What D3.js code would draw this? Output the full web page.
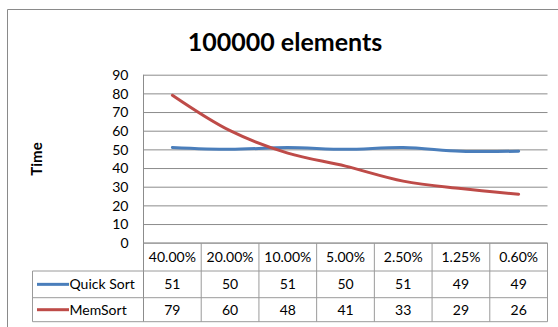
<!DOCTYPE html>
<html>
<head>
<meta charset="utf-8">
<script src="https://cdn.jsdelivr.net/npm/d3@7"></script>
<style>
  html, body { margin: 0; padding: 0; background: #fff; }
  svg { display: block; }
  text { font-family: Lato, "Open Sans", "Noto Sans", sans-serif; fill: #000; }
</style>
</head>
<body>
<svg id="chart" width="558" height="327"></svg>
<script>
// Sample fractions on the x axis
const categories = ["40.00%", "20.00%", "10.00%", "5.00%", "2.50%", "1.25%", "0.60%"];
// Run times per series
const quickSort = [51, 50, 51, 50, 51, 49, 49];
const memSort = [79, 60, 48, 41, 33, 29, 26];
const seriesNames = ["Quick Sort", "MemSort"];
const seriesColors = ["#4A7EBB", "#BE4B48"];
const yTicks = [0, 10, 20, 30, 40, 50, 60, 70, 80, 90];

const series = [
  { name: seriesNames[0], values: quickSort, color: seriesColors[0] },
  { name: seriesNames[1], values: memSort, color: seriesColors[1] }
];

const svg = d3.select("#chart");
const gridColor = "#8C8C8C";

// chart frame
const frame = { left: 7.5, top: 9.5 };
svg.append("path")
  .attr("d", `M${frame.left},327 V${frame.top} H558`)
  .attr("fill", "none").attr("stroke", "#8A8A8A").attr("stroke-width", 1);

// plot area
const plot = { left: 143.5, right: 547.5, top: 74.7, bottom: 242.7 };

const x = d3.scaleBand().domain(categories).range([plot.left, plot.right]);
const y = d3.scaleLinear().domain([0, 90]).range([plot.bottom, plot.top]);

// title
svg.append("text")
  .attr("x", 285).attr("y", 51)
  .attr("text-anchor", "middle")
  .style("font-size", "25px").style("font-weight", "bold")
  .text("100000 elements");

// y axis title
svg.append("text")
  .attr("transform", "translate(42,159) rotate(-90)")
  .attr("text-anchor", "middle")
  .style("font-size", "15px").style("font-weight", "bold")
  .text("Time");

// gridlines and tick labels
const yAxis = d3.axisLeft(y)
  .tickValues(yTicks)
  .tickSize(-(plot.right - plot.left))
  .tickPadding(15)
  .tickFormat(d3.format("d"));

const gy = svg.append("g")
  .attr("transform", `translate(${plot.left},0)`)
  .call(yAxis);
gy.select(".domain").remove();
gy.selectAll(".tick line").attr("stroke", gridColor).attr("stroke-width", 1);
gy.selectAll(".tick text")
  .style("font-size", "14px")
  .style("font-family", "Lato, 'Open Sans', sans-serif")
  .attr("fill", "#000")
  .attr("dy", "0.35em");

// vertical axis line through plot and table
const rows = [243, 271, 297.7, 321.7];
svg.append("line")
  .attr("x1", plot.left).attr("x2", plot.left)
  .attr("y1", plot.top).attr("y2", rows[3])
  .attr("stroke", gridColor).attr("stroke-width", 1);

// series lines
const line = d3.line()
  .x((d, i) => x(categories[i]) + x.bandwidth() / 2)
  .y(d => y(d))
  .curve(d3.curveCatmullRom.alpha(0.5));

svg.append("g").selectAll("path")
  .data(series)
  .join("path")
  .attr("d", d => line(d.values))
  .attr("fill", "none")
  .attr("stroke", d => d.color)
  .attr("stroke-width", 3)
  .attr("stroke-linecap", "round")
  .attr("stroke-linejoin", "round");

// data table
const table = svg.append("g");
const tableLeft = 32.5;
const tblColor = "#9A9A9A";

// horizontal rules
table.append("line")
  .attr("x1", plot.left).attr("x2", plot.right)
  .attr("y1", rows[0]).attr("y2", rows[0])
  .attr("stroke", tblColor);
[rows[1], rows[2], rows[3]].forEach(r => {
  table.append("line")
    .attr("x1", tableLeft).attr("x2", plot.right)
    .attr("y1", r).attr("y2", r)
    .attr("stroke", tblColor);
});
// vertical rules
table.append("line")
  .attr("x1", tableLeft).attr("x2", tableLeft)
  .attr("y1", rows[1]).attr("y2", rows[3])
  .attr("stroke", tblColor);
categories.forEach(c => {
  const xr = x(c) + x.bandwidth();
  table.append("line")
    .attr("x1", xr).attr("x2", xr)
    .attr("y1", rows[0]).attr("y2", rows[3])
    .attr("stroke", tblColor);
});

// header labels
table.selectAll(".hdr")
  .data(categories)
  .join("text")
  .attr("class", "hdr")
  .attr("x", d => x(d) + x.bandwidth() / 2)
  .attr("y", (rows[0] + rows[1]) / 2)
  .attr("dy", "0.35em")
  .attr("text-anchor", "middle")
  .style("font-size", "14px")
  .text(d => d);

// series rows
series.forEach((s, si) => {
  const cy = (rows[si + 1] + rows[si + 2]) / 2;
  table.append("line")
    .attr("x1", 37).attr("x2", 69)
    .attr("y1", cy).attr("y2", cy)
    .attr("stroke", s.color).attr("stroke-width", 3);
  table.append("text")
    .attr("x", 69.5).attr("y", cy).attr("dy", "0.35em")
    .style("font-size", "14px")
    .text(s.name);
  table.selectAll(null)
    .data(s.values)
    .join("text")
    .attr("x", (d, i) => x(categories[i]) + x.bandwidth() / 2)
    .attr("y", cy).attr("dy", "0.35em")
    .attr("text-anchor", "middle")
    .style("font-size", "14px")
    .text(d => d);
});
</script>
</body>
</html>
